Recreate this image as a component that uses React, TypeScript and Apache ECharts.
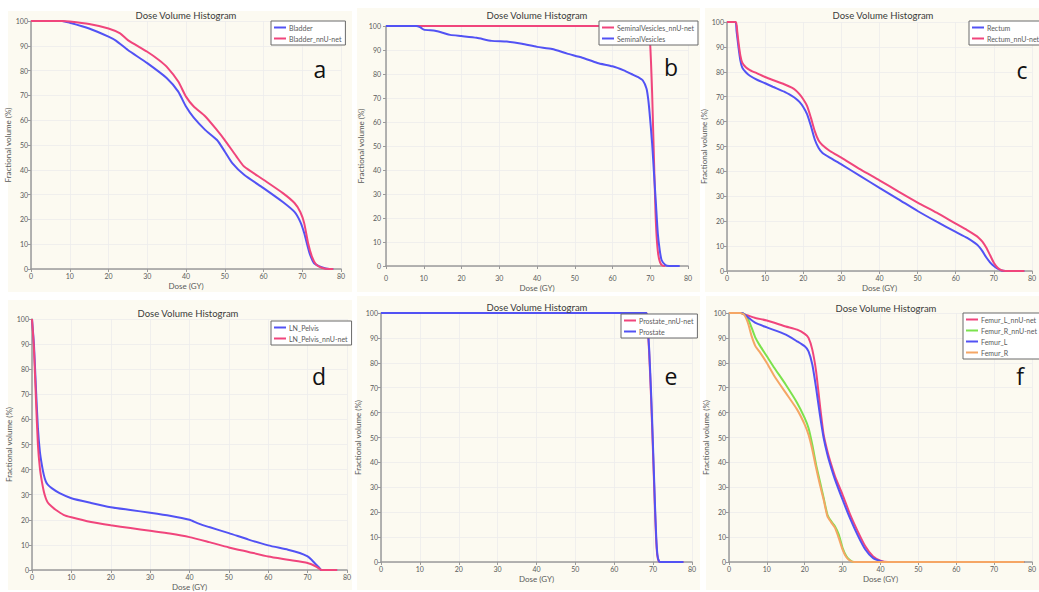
import React, { useEffect, useRef } from "react";
import * as echarts from "echarts";

// ---------- data (dose in Gy, fractional volume in %) ----------
const xTicks = [0, 10, 20, 30, 40, 50, 60, 70, 80];
const yTicks = [0, 10, 20, 30, 40, 50, 60, 70, 80, 90, 100];

const bladder = [[0,100],[8,100],[10,99.3],[15,97],[20,93.7],[22,92],[25,88.3],[30,83],[35,77],[38,71.5],[40,65.5],[42,61],[45,56],[48,52],[50,47.4],[52,42.6],[55,38],[60,32.6],[65,27],[68,23],[69.5,19],[70.5,14.5],[71.5,8.5],[72,5.8],[73,2.4],[75,0.7],[77,0],[78,0]];
const bladderNnu = [[0,100],[8,100],[10,99.8],[15,98.8],[20,97],[23,95],[25,92.3],[30,87.6],[33,84.3],[35,81.6],[38,75.6],[40,69.5],[42,65.5],[45,61.5],[48,56],[50,52],[53,45.4],[55,41.3],[60,36],[65,30.6],[68,26.6],[69.5,23],[70.5,18.5],[71.5,10.5],[72.5,5],[73.5,2],[75,0.5],[77,0],[78,0]];

const svNnu = [[0,100],[69.6,100],[69.9,95],[70.2,85],[70.5,72],[70.8,55],[71.1,38],[71.4,22],[71.7,12],[72.1,5],[72.6,1.5],[73.2,0.2],[74,0]];
const sv = [[0,100],[8,100],[9,99.5],[10,98.5],[13,98],[15,97.2],[17,96.3],[20,95.8],[24,95.1],[28,93.8],[32,93.5],[36,92.6],[40,91.3],[44,90.4],[48,88.5],[52,86.8],[56,84.6],[60,83.2],[63,81.5],[65,80],[67,78.5],[68,77.4],[69,74],[69.5,69],[70,60.7],[70.5,51],[71,38.5],[71.5,26],[72,13.6],[72.5,6.7],[73,2.5],[74,0.4],[75,0],[77.8,0]];

const rectum = [[0,100],[2.2,100],[2.5,96.4],[3,90],[3.5,84.6],[4,81.7],[5,79.7],[6,78.4],[8,76.7],[10,75.4],[12,74],[15,72],[17,70.3],[18,69.3],[19,67.9],[20,65.9],[21,63],[22,58.3],[23,52.9],[24,49.5],[25,47.5],[27,45.5],[30,42.8],[35,38.1],[40,33.4],[45,28.8],[50,24.1],[55,19.8],[60,15.7],[63,13.3],[65,11.3],[66,10],[67,8],[68,5.5],[69,3.5],[70,2],[71,0.9],[72,0.2],[73,0],[78,0]];
const rectumNnu = [[0,100],[2.3,100],[2.7,96],[3,92],[3.5,86.6],[4,83.7],[5,81.7],[6,80.7],[8,79.3],[10,77.9],[12,76.7],[15,75],[17,73.6],[18,72.6],[19,71],[20,69],[21,66.3],[22,61.6],[23,56.3],[24,52.5],[25,50.6],[27,48.2],[30,45.5],[35,40.8],[40,36.4],[45,31.9],[50,27.5],[55,23.4],[60,19],[63,16.4],[65,14.5],[66,13.4],[67,11.8],[68,9.4],[69,6.4],[70,3.3],[71,1.3],[72,0.3],[73,0],[78,0]];

const lnPelvis = [[0,100],[0.5,89.7],[1,72.4],[1.5,56.5],[2,47.2],[2.5,41.9],[3,37.9],[3.5,35.3],[4,34],[5,32.6],[7,30.6],[10,28.6],[15,26.7],[20,25],[25,23.9],[30,22.8],[35,21.6],[40,20],[42,18.7],[45,17.1],[50,14.7],[55,12.1],[60,9.8],[65,8.1],[68,6.8],[70,5.4],[71,4.1],[72,2.4],[73,0.8],[73.5,0],[77.5,0]];
const lnPelvisNnu = [[0,100],[0.5,88],[1,68],[1.5,50],[2,40.6],[2.5,35.3],[3,31.3],[3.5,28.6],[4,26.9],[5,25.3],[6,24],[8,22],[10,21],[15,19.1],[20,17.8],[25,16.7],[30,15.6],[35,14.5],[40,13.1],[45,11.1],[50,9],[55,7.2],[60,5.4],[65,4.1],[70,2.8],[72,1.5],[73,0.5],[73.5,0],[77.5,0]];

const prostateNnu = [[0,100],[68.25,100],[68.55,95],[68.95,85],[69.45,67],[69.95,45],[70.45,22],[70.75,10],[71.05,3],[71.45,0.3],[72,0],[77.8,0]];
const prostate = [[0,100],[68.3,100],[68.6,95],[69,85],[69.5,67],[70,45],[70.5,22],[70.8,10],[71.1,3],[71.5,0.3],[72,0],[77.8,0]];

const femurLNnu = [[0,100],[3,100],[4,99.5],[5,99],[7,98],[10,97],[15,94.6],[18,93.3],[20,91.6],[21,90],[22,85.3],[23,76.6],[24,63.2],[25,51.1],[26,44.4],[27,39.1],[28,34.4],[30,27],[32,19],[34,12.3],[36,6.3],[38,2.3],[40,0.5],[42,0],[78,0]];
const femurRNnu = [[0,100],[3,100],[4,99.6],[5,97.7],[6,94],[7,90],[8,87.3],[10,82.6],[12,77.9],[15,71.2],[18,63.9],[20,57.8],[21,53.8],[22,47.1],[23,39.1],[24,32.4],[25,25.7],[26,19],[27,16.3],[28,14.3],[29,11],[30,5.6],[31,2.3],[32,0.7],[33,0],[78,0]];
const femurL = [[0,100],[3.5,100],[4,99.5],[5,98.3],[7,96],[10,94.2],[15,91.3],[18,88.6],[20,86.6],[21,84.6],[22,79.3],[23,69.9],[24,59.2],[25,49.8],[26,43.1],[27,37.8],[28,33.1],[30,25],[32,17.4],[34,10.7],[36,5],[38,1.6],[40,0.3],[41,0],[78,0]];
const femurR = [[0,100],[3,100],[4,99.3],[5,96],[6,90.6],[7,86.6],[8,84.6],[10,79.9],[12,74.6],[15,67.9],[18,61.2],[20,55.2],[21,51.1],[22,45.1],[23,37.8],[24,31.1],[25,25],[26,18.3],[27,15.9],[28,13.7],[29,9.6],[30,5],[31,1.9],[32,0.5],[33,0],[78,0]];

const BLUE = "#5252f4";
const PINK = "#f0457c";
const GREEN = "#7be24c";
const ORANGE = "#f5a665";

// ---------- layout ----------
const panels = [
  { bg: [8, 11, 344, 281], grid: { left: 31, top: 21, width: 310, height: 248 }, title: [186, 10], legend: [271, 21], letter: ["a", 320, 69], xOff: 0, yOff: 0,
    series: [["Bladder", BLUE, bladder], ["Bladder_nnU-net", PINK, bladderNnu]] },
  { bg: [357, 8, 343, 284], grid: { left: 386, top: 26, width: 302, height: 240 }, title: [537, 10], legend: [599, 21], letter: ["b", 671, 67], xOff: 5, yOff: 2,
    series: [["SeminalVesicles_nnU-net", PINK, svNnu], ["SeminalVesicles", BLUE, sv]] },
  { bg: [705, 8, 340, 284], grid: { left: 727, top: 22, width: 314, height: 249 }, title: [883, 10], legend: [969, 21], letter: ["c", 1022, 70], xOff: 0, yOff: 0,
    series: [["Rectum", BLUE, rectum], ["Rectum_nnU-net", PINK, rectumNnu]] },
  { bg: [8, 300, 344, 290], grid: { left: 32, top: 319, width: 315, height: 251 }, title: [188, 308], legend: [271, 321], letter: ["d", 319, 376], xOff: 0, yOff: 0,
    series: [["LN_Pelvis", BLUE, lnPelvis], ["LN_Pelvis_nnU-net", PINK, lnPelvisNnu]] },
  { bg: [357, 296, 343, 294], grid: { left: 381, top: 313, width: 311, height: 249 }, title: [537, 302], legend: [621, 314], letter: ["e", 671, 376], xOff: 0, yOff: 0,
    series: [["Prostate_nnU-net", PINK, prostateNnu], ["Prostate", BLUE, prostate]] },
  { bg: [706, 296, 340, 294], grid: { left: 729, top: 313, width: 312, height: 249 }, title: [886, 303], legend: [963, 313], letter: ["f", 1020, 376], xOff: 0, yOff: 0,
    series: [["Femur_L_nnU-net", PINK, femurLNnu], ["Femur_R_nnU-net", GREEN, femurRNnu], ["Femur_L", BLUE, femurL], ["Femur_R", ORANGE, femurR]] },
];

const FONT = "Lato, 'DejaVu Sans', sans-serif";
const AXIS_COLOR = "#9a9a9a";
const LABEL_COLOR = "#5a5a5a";

function buildOption() {
  const grid: any[] = [];
  const xAxis: any[] = [];
  const yAxis: any[] = [];
  const title: any[] = [];
  const legend: any[] = [];
  const series: any[] = [];
  const graphics: any[] = [];

  panels.forEach((p, i) => {
    graphics.push({
      type: "rect",
      z: -10,
      shape: { x: p.bg[0], y: p.bg[1], width: p.bg[2], height: p.bg[3] },
      style: { fill: "#fcfaf1" },
    });
    graphics.push({
      type: "text",
      z: 10,
      x: p.letter[1] as number,
      y: p.letter[2] as number,
      style: {
        text: p.letter[0] as string,
        fontSize: 23,
        fontFamily: "'Open Sans', 'DejaVu Sans', sans-serif",
        fill: "#111",
        textAlign: "center",
        textVerticalAlign: "middle",
      },
    });
    grid.push({ ...p.grid, containLabel: false });
    const axisCommon = {
      gridIndex: i,
      type: "value",
      nameLocation: "middle",
      nameTextStyle: { fontSize: 8, color: LABEL_COLOR, fontFamily: FONT },
      axisLine: { show: true, lineStyle: { color: AXIS_COLOR, width: 1.5 } },
      axisTick: { show: true, length: 3, lineStyle: { color: AXIS_COLOR } },
      axisLabel: { fontSize: 7, color: LABEL_COLOR, fontFamily: FONT, margin: 3 },
      splitLine: { show: true, lineStyle: { color: "#ececec", width: 0.8 } },
    };
    xAxis.push({
      ...axisCommon,
      name: "Dose (GY)",
      nameGap: 13,
      min: xTicks[0],
      max: xTicks[xTicks.length - 1],
      interval: xTicks[1] - xTicks[0],
      offset: p.xOff,
    });
    yAxis.push({
      ...axisCommon,
      name: "Fractional volume (%)",
      nameGap: 15,
      min: yTicks[0],
      max: yTicks[yTicks.length - 1],
      interval: yTicks[1] - yTicks[0],
      offset: p.yOff,
    });
    title.push({
      text: "Dose Volume Histogram",
      left: p.title[0],
      top: p.title[1],
      padding: 0,
      textAlign: "center",
      textStyle: { fontSize: 9.5, fontWeight: "normal", color: "#3a3a3a", fontFamily: FONT },
    });
    legend.push({
      left: p.legend[0],
      top: p.legend[1],
      orient: "vertical",
      data: p.series.map((s) => s[0] as string),
      icon: "rect",
      itemWidth: 12,
      itemHeight: 2,
      itemGap: 4,
      padding: [3, 4, 3, 3],
      backgroundColor: "#ffffff",
      borderColor: "#6a6a6a",
      borderWidth: 1,
      textStyle: { fontSize: 7, color: LABEL_COLOR, fontFamily: FONT, padding: [0, 0, 0, -2] },
    });
    p.series.forEach((s) => {
      series.push({
        type: "line",
        name: s[0],
        xAxisIndex: i,
        yAxisIndex: i,
        data: s[2],
        showSymbol: false,
        smooth: 0.2,
        color: s[1],
        lineStyle: { color: s[1], width: 2 },
      });
    });
  });

  return {
    animation: false,
    backgroundColor: "#ffffff",
    grid,
    xAxis,
    yAxis,
    title,
    legend,
    series,
    graphic: { elements: graphics },
  };
}

export default function App() {
  const ref = useRef<HTMLDivElement>(null);
  useEffect(() => {
    if (!ref.current) return;
    const chart = echarts.init(ref.current, undefined, { renderer: "svg" });
    chart.setOption(buildOption() as any);
    return () => chart.dispose();
  }, []);
  return (
    <div
      ref={ref}
      style={{ position: "absolute", left: 0, top: 0, width: 1039, height: 592 }}
    />
  );
}
